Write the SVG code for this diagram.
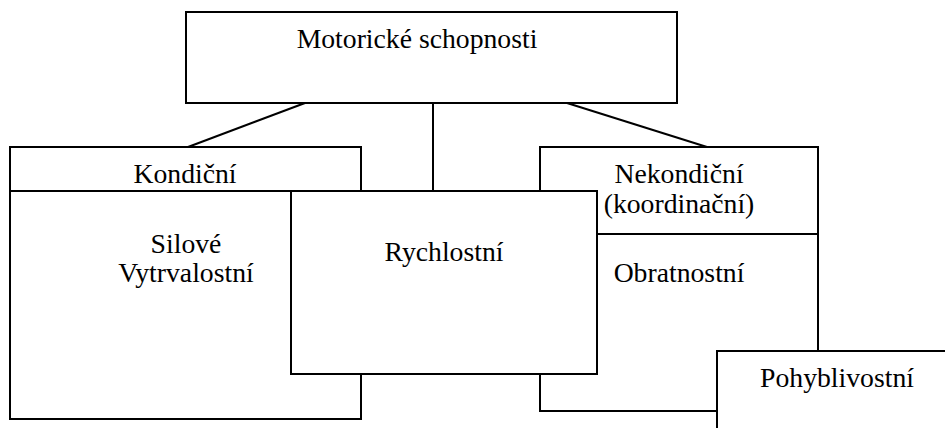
<svg xmlns="http://www.w3.org/2000/svg" width="945" height="428" viewBox="0 0 945 428">
  <style>
    .box { fill: #ffffff; stroke: #000000; stroke-width: 2; }
    .line { fill: none; stroke: #000000; stroke-width: 2; }
    text { font-family: "Liberation Serif", "Times New Roman", serif; font-size: 27.7px; fill: #000000; text-anchor: middle; }
  </style>
  <rect width="945" height="428" fill="#ffffff"/>

  <g id="connectors">
    <line class="line" x1="305" y1="103" x2="188" y2="147"/>
    <line class="line" x1="433" y1="103" x2="433" y2="191"/>
    <line class="line" x1="567" y1="103" x2="707" y2="147"/>
  </g>

  <g id="motoricke">
    <rect class="box" x="186" y="12" width="491" height="91"/>
    <text x="417" y="48">Motorické schopnosti</text>
  </g>

  <g id="kondicni">
    <rect class="box" x="10" y="147" width="351" height="272"/>
    <line class="line" x1="10" y1="191" x2="361" y2="191"/>
    <text x="185" y="183">Kondiční</text>
    <text x="186" y="253">Silové</text>
    <text x="186" y="282">Vytrvalostní</text>
  </g>

  <g id="nekondicni">
    <rect class="box" x="540" y="147" width="278" height="264"/>
    <line class="line" x1="540" y1="234" x2="818" y2="234"/>
    <text x="679" y="183">Nekondiční</text>
    <text x="679" y="213">(koordinační)</text>
    <text x="679" y="282">Obratnostní</text>
  </g>

  <g id="rychlostni">
    <rect class="box" x="291" y="191" width="306" height="183"/>
    <text x="444" y="261">Rychlostní</text>
  </g>

  <g id="pohyblivostni">
    <rect class="box" x="717" y="351" width="240" height="90"/>
    <text x="837" y="387">Pohyblivostní</text>
  </g>
</svg>
